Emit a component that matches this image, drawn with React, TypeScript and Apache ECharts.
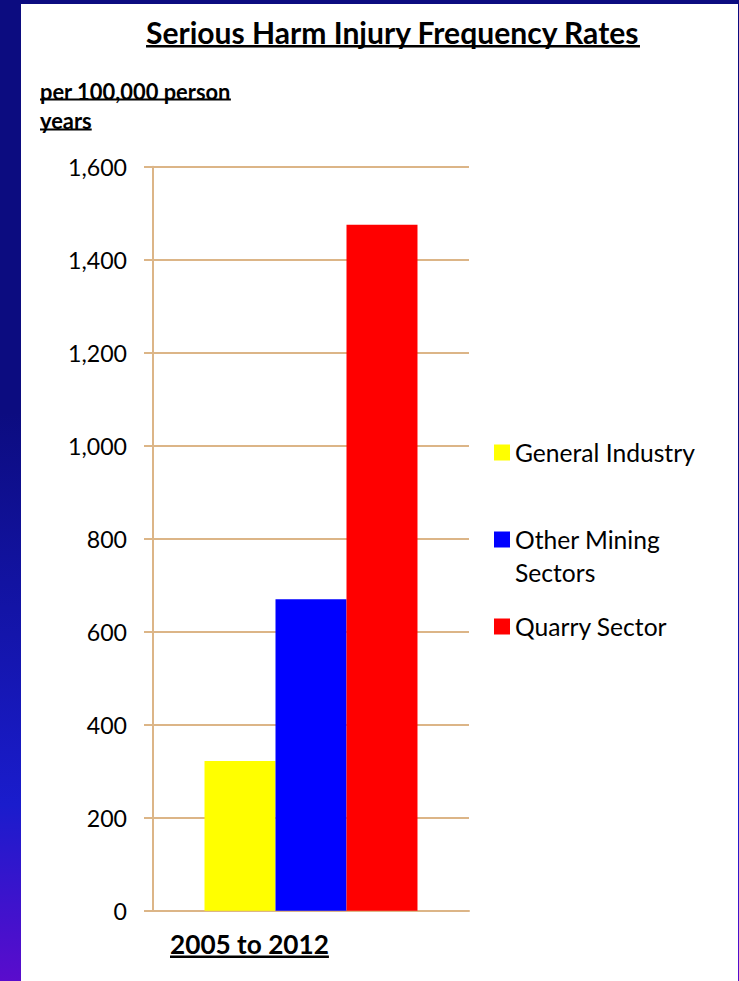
import React, { useEffect, useRef } from "react";
import * as echarts from "echarts";

const categories = ["2005 to 2012"];
const seriesNames = ["General Industry", "Other Mining Sectors", "Quarry Sector"];
const seriesValues = [[322], [670], [1475]];
const seriesColors = ["#ffff00", "#0000ff", "#ff0000"];
const yTicks = { min: 0, max: 1600, interval: 200 };
const titleText = "Serious Harm Injury Frequency Rates";
const unitLines = ["per 100,000 person", "years"];

const FONT = "Lato";
const AXIS_COLOR = "#dcb587";

function measure(text: string, weight: string, size: number) {
  const c = document.createElement("canvas");
  const ctx = c.getContext("2d")!;
  ctx.font = `${weight} ${size}px ${FONT}`;
  return ctx.measureText(text).width;
}
function fit(text: string, weight: string, target: number) {
  return (100 * target) / measure(text, weight, 100);
}

export default function App() {
  const ref = useRef<HTMLDivElement>(null);
  useEffect(() => {
    const chart = echarts.init(ref.current!, null, { renderer: "svg" });

    const titleSize = fit(titleText, "bold", 494);
    const unitSize = fit(unitLines[0], "bold", 191);
    const catSize = fit(categories[0], "bold", 159);
    const legendSize = fit("General Industry", "normal", 180);
    const axisSize = fit("1,600", "normal", 59);

    const underlined = (text: string, left: number, cy: number, size: number, uy: number, th: number, center = false) => {
      const w = measure(text, "bold", size);
      const x0 = center ? left - w / 2 : left;
      return [
        {
          type: "text",
          z: 10,
          style: {
            text,
            x: x0,
            y: cy,
            textAlign: "left",
            textVerticalAlign: "middle",
            fontFamily: FONT,
            fontWeight: "bold",
            fontSize: size,
            fill: "#000",
          },
        },
        { type: "rect", z: 10, shape: { x: x0, y: uy, width: w, height: th }, style: { fill: "#000" } },
      ];
    };

    const graphic: any[] = [
      {
        type: "rect",
        z: -100,
        silent: true,
        shape: { x: 0, y: 0, width: 739, height: 981 },
        style: {
          fill: new echarts.graphic.LinearGradient(0, 0, 0, 1, [
            { offset: 0, color: "#0c0c80" },
            { offset: 0.42, color: "#0c0c80" },
            { offset: 0.82, color: "#1a1ccc" },
            { offset: 1, color: "#5a0ccc" },
          ]),
        },
      },
      { type: "rect", z: -99, silent: true, shape: { x: 21, y: 4, width: 717, height: 977 }, style: { fill: "#fff" } },
      ...underlined(titleText, 393, 32, titleSize, 45, 2.5, true),
      ...underlined(unitLines[0], 40, 91, unitSize, 98.5, 2),
      ...underlined(unitLines[1], 40, 120, unitSize, 128.5, 2),
      ...underlined(categories[0], 170, 944, catSize, 955.5, 2.5),
      {
        type: "text",
        z: 10,
        style: {
          text: "Sectors",
          x: 515,
          y: 572,
          textAlign: "left",
          textVerticalAlign: "middle",
          fontFamily: FONT,
          fontSize: legendSize,
          fill: "#000",
        },
      },
    ];

    chart.setOption({
      animation: false,
      textStyle: { fontFamily: FONT },
      grid: { left: 153, right: 270, top: 166.7, bottom: 70.3, containLabel: false },
      legend: {
        orient: "vertical",
        left: 494,
        top: 440,
        padding: 0,
        itemWidth: 16,
        itemHeight: 16,
        itemGap: 62,
        icon: "rect",
        selectedMode: false,
        data: seriesNames,
        formatter: (name: string) => (name === "Other Mining Sectors" ? "Other Mining" : name),
        textStyle: { fontFamily: FONT, fontSize: legendSize, color: "#000", lineHeight: 24 },
      },
      xAxis: {
        type: "category",
        data: categories,
        axisLine: { show: true, lineStyle: { color: AXIS_COLOR, width: 2 } },
        axisTick: { show: false },
        axisLabel: { show: false },
      },
      yAxis: {
        type: "value",
        min: yTicks.min,
        max: yTicks.max,
        interval: yTicks.interval,
        axisLine: { show: true, lineStyle: { color: AXIS_COLOR, width: 2 } },
        axisTick: { show: true, length: 9, inside: false, lineStyle: { color: AXIS_COLOR, width: 2 } },
        splitLine: { show: true, lineStyle: { color: AXIS_COLOR, width: 2 } },
        axisLabel: {
          margin: 26,
          fontFamily: FONT,
          fontSize: axisSize,
          color: "#000",
          formatter: (v: number) => v.toLocaleString("en-US"),
        },
      },
      series: seriesNames.map((name, i) => ({
        type: "bar",
        name,
        data: seriesValues[i],
        barGap: "0%",
        barCategoryGap: "32.6%",
        itemStyle: { color: seriesColors[i] },
      })),
      graphic,
    });
    return () => chart.dispose();
  }, []);
  return <div ref={ref} style={{ position: "absolute", left: 0, top: 0, width: 739, height: 981 }} />;
}
